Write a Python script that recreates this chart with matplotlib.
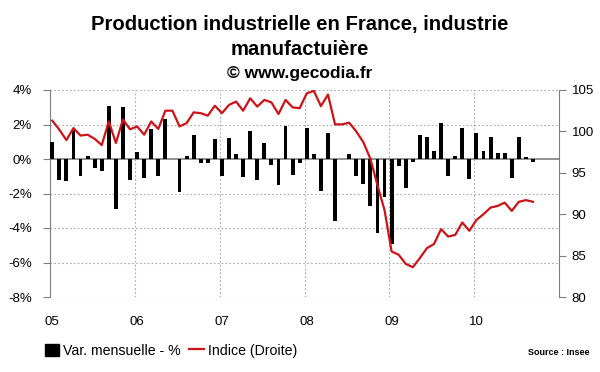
import matplotlib
matplotlib.use("Agg")
import matplotlib.pyplot as plt
from matplotlib.patches import Patch
from matplotlib.lines import Line2D
import numpy as np

plt.rcParams['font.family'] = ['Liberation Sans', 'DejaVu Sans']

# monthly data, Jan 2005 -> Sep 2010
var_mensuelle = [1.0, -1.2, -1.3, 1.7, -1.0, 0.2, -0.55, -0.7, 3.1, -2.9, 3.0, -1.2,
                 0.4, -1.1, 1.75, -1.0, 2.3, 0.0, -1.9, 0.2, 1.4, -0.25, -0.25, 1.15,
                 -1.0, 1.2, 0.3, -1.05, 1.6, -1.2, 0.9, -0.33, -1.5, 1.9, -0.9, -0.23,
                 1.8, 0.3, -1.85, 1.5, -3.6, 0.0, 0.3, -1.0, -1.45, -2.75, -4.3, -2.2,
                 -4.9, -0.4, -1.7, -0.15, 1.4, 1.3, 0.45, 2.1, -1.0, 0.15, 1.8, -1.15,
                 1.5, 0.45, 1.25, 0.35, 0.35, -1.1, 1.3, 0.1, -0.15]
indice = [101.3, 100.2, 98.95, 100.4, 99.5, 99.6, 99.1, 98.35, 101.2, 98.6, 101.45, 100.25,
          100.6, 99.6, 101.2, 100.3, 102.5, 102.5, 100.6, 101.0, 102.3, 102.2, 101.9, 103.1,
          102.2, 103.2, 103.6, 102.5, 104.0, 103.0, 103.8, 103.5, 102.1, 103.8, 102.9, 102.8,
          104.6, 104.9, 103.05, 104.45, 100.85, 100.85, 101.05, 100.0, 98.7, 96.7, 93.5, 90.5,
          85.5, 85.1, 84.0, 83.6, 84.7, 85.9, 86.4, 88.2, 87.3, 87.5, 89.0, 88.0,
          89.3, 90.0, 90.8, 91.0, 91.4, 90.4, 91.5, 91.7, 91.5]
year_labels = ['05', '06', '07', '08', '09', '10']

x = np.arange(len(var_mensuelle)) + 0.32

fig = plt.figure(figsize=(6, 3.72), dpi=100)
ax = fig.add_axes([50 / 600, 1 - 297 / 372, 509 / 600, 207 / 372])
ax2 = ax.twinx()

ax.bar(x, var_mensuelle, width=0.55, color='black', zorder=3)
ax2.plot(x, indice, color='#cc1418', lw=1.6, zorder=4)

ax.set_xlim(0, 72)
ax.set_ylim(-8, 4)
ax2.set_ylim(80, 105)

grid_c = '#a8a8a8'
ax.set_yticks(np.arange(-8, 5, 2))
ax.set_yticklabels([f'{v}%' for v in range(-8, 5, 2)])
for v in [-8, -6, -4, -2, 2, 4]:
    ax.axhline(v, color=grid_c, lw=0.8, ls=(0, (1.5, 2)), zorder=1)
for m in range(12, 72, 12):
    ax.axvline(m, color=grid_c, lw=0.8, ls=(0, (1.5, 2)), zorder=1)
ax.axhline(0, color='#7f7f7f', lw=1.2, zorder=2)

ax.set_xticks(np.arange(0, 72, 12) + 0.3)
ax.set_xticklabels(year_labels)
ax.tick_params(axis='x', length=0, pad=14, labelsize=9.5)
ax.tick_params(axis='y', length=5, color='#7f7f7f', labelsize=9.5, pad=8)

ax2.set_yticks(np.arange(80, 106, 5))
ax2.tick_params(axis='y', length=5, color='#7f7f7f', labelsize=9.5, pad=4)

for a in (ax, ax2):
    for s in ['top', 'bottom']:
        a.spines[s].set_visible(False)
    a.spines['left'].set_color('#7f7f7f')
    a.spines['right'].set_color('#7f7f7f')
ax.spines['right'].set_visible(False)
ax2.spines['left'].set_visible(False)

fig.text(0.5, 0.935, 'Production industrielle en France, industrie',
         ha='center', va='center', fontsize=14.6, weight='bold')
fig.text(0.5, 0.868, 'manufactuière', ha='center', va='center', fontsize=14.6, weight='bold')
fig.text(0.5, 0.803, '© www.gecodia.fr', ha='center', va='center', fontsize=12.5, weight='bold')

handles = [Patch(facecolor='black', edgecolor='black'),
           Line2D([], [], color='#cc1418', lw=1.6)]
fig.legend(handles, ['Var. mensuelle - %', 'Indice (Droite)'], ncol=2,
           loc='center left', bbox_to_anchor=(0.063, 0.057), frameon=False,
           fontsize=10.2, handlelength=1.0, handleheight=0.9, handletextpad=0.3,
           columnspacing=0.6, borderpad=0)
fig.text(0.983, 0.053, 'Source : Insee', ha='right', va='center', fontsize=6.5, weight='bold')

fig.savefig('out.png', dpi=100)
